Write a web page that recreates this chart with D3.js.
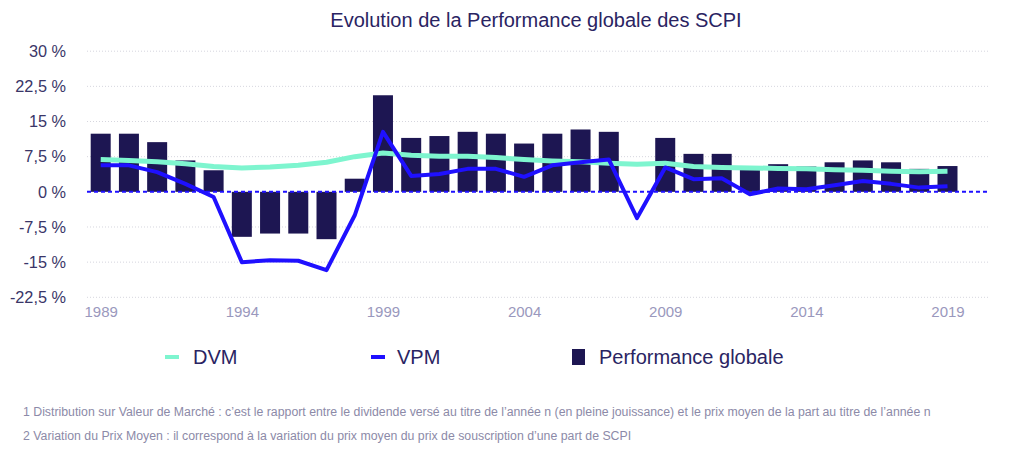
<!DOCTYPE html>
<html>
<head>
<meta charset="utf-8">
<script src="https://cdn.jsdelivr.net/npm/d3@7"></script>
<style>
  html, body { margin: 0; padding: 0; background: #fff; }
  svg { display: block; font-family: "Liberation Sans", Arial, Helvetica, sans-serif; }
</style>
</head>
<body>
<svg id="chart" width="1024" height="460"></svg>
<script>
const years = d3.range(1989, 2020);
const perfGlobale = [12.4, 12.4, 10.6, 6.7, 4.6, -9.6, -8.9, -8.9, -10.1, 2.8,
  20.6, 11.5, 11.9, 12.8, 12.4, 10.3, 12.4, 13.3, 12.8, null,
  11.5, 8.1, 8.1, 4.7, 5.9, 5.4, 6.3, 6.7, 6.3, 4.9, 5.5];
const dvm = [6.9, 6.7, 6.4, 6.0, 5.4, 5.1, 5.3, 5.65, 6.3, 7.5,
  8.3, 7.8, 7.6, 7.6, 7.3, 6.9, 6.6, 6.4, 6.1, 5.9,
  6.1, 5.4, 5.2, 5.1, 5.0, 4.9, 4.7, 4.6, 4.4, 4.3, 4.4];
const vpm = [5.65, 5.65, 4.2, 1.7, -1.1, -15.0, -14.6, -14.7, -16.7, -5.0,
  12.8, 3.4, 3.8, 4.9, 4.9, 3.2, 5.65, 6.3, 6.9, -5.6,
  5.2, 2.7, 2.9, -0.5, 0.7, 0.55, 1.4, 2.3, 1.7, 0.9, 1.2];
const yTicks = [-22.5, -15, -7.5, 0, 7.5, 15, 22.5, 30];
const xTickYears = [1989, 1994, 1999, 2004, 2009, 2014, 2019];
const legendLabels = ["DVM", "VPM", "Performance globale"];
const titleText = "Evolution de la Performance globale des SCPI";
const footnotes = [
  "1 Distribution sur Valeur de Marché : c’est le rapport entre le dividende versé au titre de l’année n (en pleine jouissance) et le prix moyen de la part au titre de l’année n",
  "2 Variation du Prix Moyen : il correspond à la variation du prix moyen du prix de souscription d’une part de SCPI"
];

const C = {
  bar: "#1d1652", dvm: "#7ef5cf", vpm: "#1f10ff",
  title: "#2a2462", ytick: "#3a3668", xtick: "#9a98bd", grid: "#d6d6de", foot: "#8c8aa8"
};

const svg = d3.select("#chart");
const gridLeft = 87, gridRight = 988;

const x = d3.scalePoint().domain(years).range([100.7, 947.5]);
const y = d3.scaleLinear().domain([-22.5, 30]).range([297.3, 51.2]);
const barW = 20;

// title
svg.append("text").attr("x", 536).attr("y", 27).attr("text-anchor", "middle")
  .attr("font-size", 20).attr("fill", C.title).text(titleText);

// gridlines
svg.append("g").selectAll("line").data(yTicks.filter(d => d !== 0)).join("line")
  .attr("x1", gridLeft).attr("x2", gridRight)
  .attr("y1", d => y(d)).attr("y2", d => y(d))
  .attr("stroke", C.grid).attr("stroke-width", 1).attr("stroke-dasharray", "1,2");

// y axis labels
const fmt = d => (Number.isInteger(d) ? String(d) : String(d).replace(".", ",")) + " %";
const yAxis = d3.axisLeft(y).tickValues(yTicks).tickFormat(fmt).tickSize(0).tickPadding(0);
const gy = svg.append("g").attr("transform", "translate(66,0)").call(yAxis);
gy.select(".domain").remove();
gy.selectAll("text").attr("font-size", 16.3).attr("fill", C.ytick)
  .attr("font-family", "'Liberation Sans', Arial, sans-serif");

// x axis labels
const xAxis = d3.axisBottom(x).tickValues(xTickYears).tickFormat(d => String(d)).tickSize(0).tickPadding(0);
const gx = svg.append("g").attr("transform", "translate(0,306)").call(xAxis);
gx.select(".domain").remove();
gx.selectAll("text").attr("font-size", 15).attr("fill", C.xtick)
  .attr("font-family", "'Liberation Sans', Arial, sans-serif");

// bars
const barData = years.map((yr, i) => ({ yr, v: perfGlobale[i] })).filter(d => d.v !== null);
svg.append("g").selectAll("rect").data(barData).join("rect")
  .attr("x", d => x(d.yr) - barW / 2)
  .attr("width", barW)
  .attr("y", d => y(Math.max(0, d.v)))
  .attr("height", d => Math.abs(y(d.v) - y(0)))
  .attr("fill", C.bar);

// zero line
svg.append("line").attr("x1", gridLeft).attr("x2", gridRight)
  .attr("y1", y(0)).attr("y2", y(0))
  .attr("stroke", C.vpm).attr("stroke-width", 2).attr("stroke-dasharray", "4,3");

// lines
const line = d3.line().x((d, i) => x(years[i])).y(d => y(d));
svg.append("path").datum(dvm).attr("d", line).attr("fill", "none")
  .attr("stroke", C.dvm).attr("stroke-width", 5).attr("stroke-linejoin", "round");
svg.append("path").datum(vpm).attr("d", line).attr("fill", "none")
  .attr("stroke", C.vpm).attr("stroke-width", 4).attr("stroke-linejoin", "round");

// legend
const leg = svg.append("g");
const legY = 357;
leg.append("line").attr("x1", 165).attr("x2", 179).attr("y1", legY).attr("y2", legY)
  .attr("stroke", C.dvm).attr("stroke-width", 4);
leg.append("line").attr("x1", 371).attr("x2", 385).attr("y1", legY).attr("y2", legY)
  .attr("stroke", C.vpm).attr("stroke-width", 4);
leg.append("rect").attr("x", 572).attr("y", legY - 8).attr("width", 13).attr("height", 16)
  .attr("fill", C.bar);
const legX = [193, 397, 599];
leg.selectAll("text").data(legendLabels).join("text")
  .attr("x", (d, i) => legX[i]).attr("y", legY + 7)
  .attr("font-size", 20).attr("fill", C.title).text(d => d);

// footnotes
svg.append("g").selectAll("text").data(footnotes).join("text")
  .attr("x", 23).attr("y", (d, i) => 416 + i * 24)
  .attr("font-size", 12.3).attr("fill", C.foot).text(d => d);
</script>
</body>
</html>
